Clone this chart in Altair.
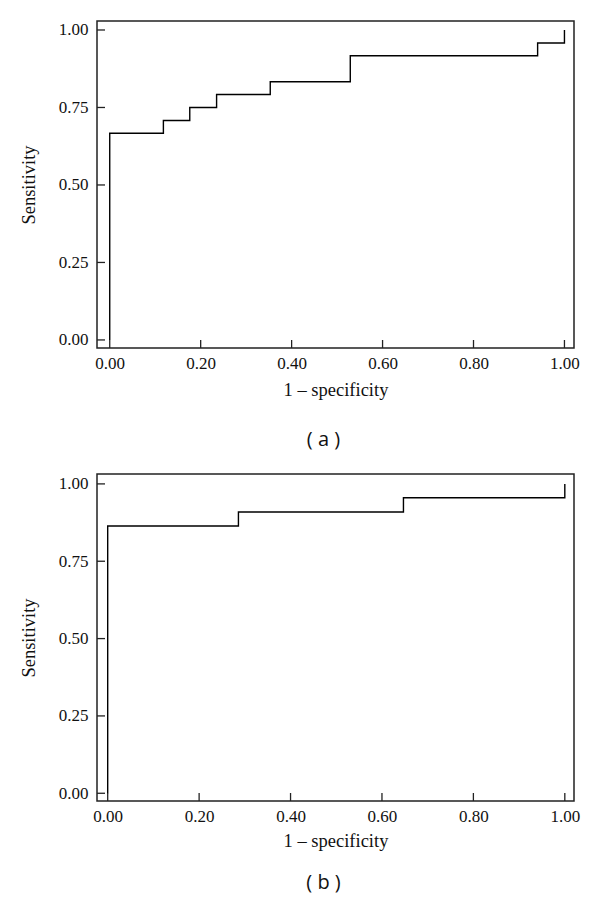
import altair as alt
import pandas as pd

# ROC points (1 - specificity, sensitivity)
fpr_a = [0.0, 0.0, 0.118, 0.176, 0.235, 0.353, 0.529, 0.941, 1.0]
tpr_a = [0.0, 0.667, 0.708, 0.750, 0.792, 0.833, 0.917, 0.958, 1.0]
fpr_b = [0.0, 0.0, 0.286, 0.647, 1.0]
tpr_b = [0.0, 0.864, 0.909, 0.955, 1.0]

x_ticks = [0.0, 0.2, 0.4, 0.6, 0.8, 1.0]
y_ticks = [0.0, 0.25, 0.5, 0.75, 1.0]
panel_labels = ["( a )", "( b )"]

W, H = 477, 327
TICK = 8
SERIF = "Liberation Serif"


def panel(fpr, tpr, xdom, ydom, label, title_offset, xtitle_pad):
    df = pd.DataFrame({"fpr": fpr, "tpr": tpr, "i": list(range(len(fpr)))})
    xs = alt.Scale(domain=xdom, nice=False, zero=False)
    ys = alt.Scale(domain=ydom, nice=False, zero=False)
    xaxis = alt.Axis(values=x_ticks, format=".2f", title="1 – specificity",
                     tickSize=0, domain=False, grid=False,
                     labelPadding=7, titlePadding=xtitle_pad)
    yaxis = alt.Axis(values=y_ticks, format=".2f", title="Sensitivity",
                     tickSize=0, domain=False, grid=False,
                     labelPadding=9, titlePadding=20)
    line = alt.Chart(df).mark_line(
        interpolate="step-after", color="black", strokeWidth=1.4
    ).encode(
        x=alt.X("fpr:Q", scale=xs, axis=xaxis),
        y=alt.Y("tpr:Q", scale=ys, axis=yaxis),
        order=alt.Order("i:Q"),
    )
    xt = alt.Chart(pd.DataFrame({"fpr": x_ticks})).mark_rule(
        color="#222", strokeWidth=1.3
    ).encode(
        x=alt.X("fpr:Q", scale=xs, axis=xaxis),
        y=alt.value(H),
        y2=alt.value(H - TICK),
    )
    yt = alt.Chart(pd.DataFrame({"tpr": y_ticks})).mark_rule(
        color="#222", strokeWidth=1.3
    ).encode(
        y=alt.Y("tpr:Q", scale=ys, axis=yaxis),
        x=alt.value(0),
        x2=alt.value(TICK),
    )
    return alt.layer(xt, yt, line).properties(
        width=W, height=H,
        title=alt.TitleParams(label, orient="bottom", font="Open Sans",
                              fontSize=20, fontWeight="normal", color="#111",
                              offset=title_offset, dx=-12, anchor="middle",
                              frame="group"),
    )


pa = panel(fpr_a, tpr_a, [-0.028, 1.021], [-0.026, 1.029], panel_labels[0], 31, 9)
pb = panel(fpr_b, tpr_b, [-0.0234, 1.0201], [-0.025, 1.032], panel_labels[1], 23, 7)

chart = alt.vconcat(pa, pb, spacing=22).properties(
    padding={"left": 10, "top": 12, "right": 0, "bottom": 0}
).configure_view(
    stroke="#222", strokeWidth=1.5
).configure_axis(
    labelFont=SERIF, labelFontSize=17, labelColor="#111",
    titleFont=SERIF, titleFontSize=18.5, titleFontWeight="normal", titleColor="#111",
)

chart.save("out.html", embed_options={"renderer": "svg", "actions": False})
